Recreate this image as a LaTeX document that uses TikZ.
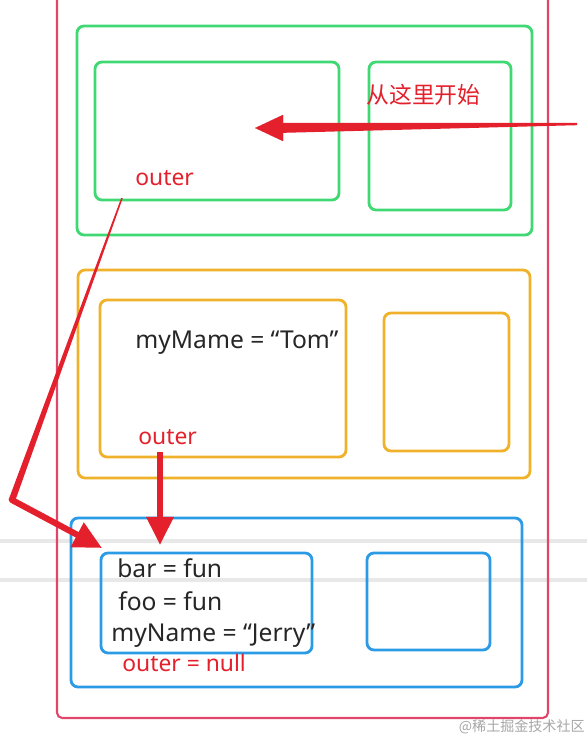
\documentclass[tikz,border=0pt]{standalone}
\usepackage{fontspec}
\setmainfont{Noto Sans}
\newfontfamily\cjk{Noto Sans CJK SC}
\usepackage{xcolor}
\usepackage{tikz}
\usetikzlibrary{arrows.meta, positioning, fit, calc}
\definecolor{frameRed}{HTML}{E0466A}
\definecolor{scopeGreen}{HTML}{3FD873}
\definecolor{scopeOrange}{HTML}{F0B22A}
\definecolor{scopeBlue}{HTML}{2C9BE6}
\definecolor{noteRed}{HTML}{E3202C}
\definecolor{ruleGray}{HTML}{E8E8E8}

\begin{document}
\begin{tikzpicture}[
    x=0.02cm, y=-0.02cm,
    box/.style={draw, rounded corners=4pt, line width=1.6pt, inner sep=0pt},
    gbox/.style={box, draw=scopeGreen},
    obox/.style={box, draw=scopeOrange},
    bbox/.style={box, draw=scopeBlue},
    code/.style={anchor=west, inner sep=0pt, font=\fontsize{14}{16}\selectfont, text=black!85},
    note/.style={anchor=west, inner sep=0pt, font=\fontsize{13}{15}\selectfont, text=noteRed},
    pointer/.style={draw=noteRed, line width=3.5pt, -{Triangle[length=16pt, width=15pt]}},
]
    \useasboundingbox (0,0) rectangle (587,740);

    % screenshot rules behind the boxes
    \draw[ruleGray, line width=2pt] (0,541) -- (587,541);
    \draw[ruleGray, line width=2pt] (0,580) -- (587,580);

    % stack frame
    \node[box, draw=frameRed, line width=1.2pt, rounded corners=3pt, fit={(57,-10) (548,718)}] (stack) {};

    % global scope
    \node[gbox, fit={(77,26) (532,235)}] (globalCtx) {};
    \node[gbox, fit={(95,62) (339,200)}] (globalVar) {};
    \node[gbox, fit={(369,62) (511,210)}] (globalLex) {};

    % foo scope
    \node[obox, fit={(78,270) (530,478)}] (fooCtx) {};
    \node[obox, fit={(100,300) (346,457)}] (fooVar) {};
    \node[obox, fit={(384,313) (509,451)}] (fooLex) {};

    % bar scope
    \node[bbox, fit={(71,518) (522,687)}] (barCtx) {};
    \node[bbox, fit={(101,553) (312,653)}] (barVar) {};
    \node[bbox, fit={(367,553) (490,650)}] (barLex) {};

    % texts
    \node[note, font=\cjk\fontsize{13}{15}\selectfont] (startLbl) at (366,95) {从这里开始};
    \node[note] (outerA) at (135,178) {outer};
    \node[code] (tomVal) at (135,343) {myMame = “Tom”};
    \node[note] (outerB) at (138,437) {outer};
    \node[code] (barFn) at (117,568) {bar = fun};
    \node[code] (fooFn) at (118,601) {foo = fun};
    \node[code] (jerryVal) at (111,636) {myName = “Jerry”};
    \node[note] (outerNull) at (122,663) {outer = null};
    \node[anchor=east, inner sep=0pt, font=\cjk\fontsize{8}{10}\selectfont, text=black!35] (mark) at (585,727) {@稀土掘金技术社区};

    % arrows
    \coordinate (entry) at (577,124);
    \coordinate (entryTip) at (255,128);
    \coordinate (chainTop) at (122,198);
    \coordinate (bend) at (12,500);
    \coordinate (chainTip) at (102,548);
    \coordinate (downTop) at (160,452);
    \coordinate (downTip) at (160,545);

    \fill[noteRed] ($(entry)+(0,-1.2)$) -- ($(entry)+(0,1.2)$) -- ($(entryTip)+(22,5)$) -- ($(entryTip)+(22,-5)$) -- cycle;
    \draw[pointer, line width=0.1pt] ($(entryTip)+(24,0)$) -- (entryTip);

    \fill[noteRed] ($(chainTop)+(-0.8,0)$) -- ($(chainTop)+(0.8,0)$) -- ($(bend)+(3.5,0)$) -- ($(bend)+(-3.5,0)$) -- cycle;
    \draw[pointer, line cap=round] (bend) -- (chainTip);
    \draw[pointer, line width=3pt] (downTop) -- (downTip);
\end{tikzpicture}
\end{document}
